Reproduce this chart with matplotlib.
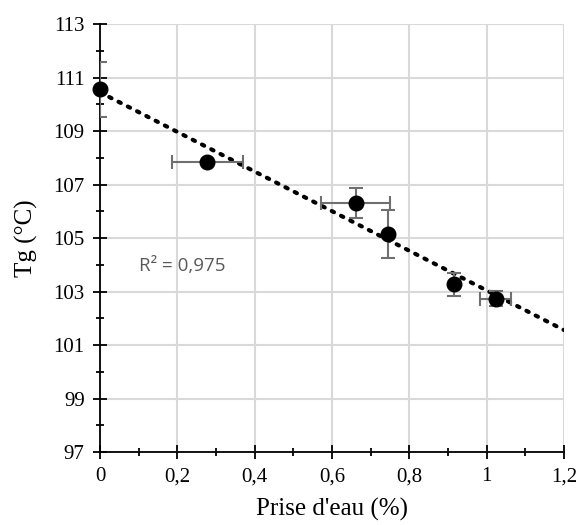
import numpy as np
import matplotlib.pyplot as plt
from matplotlib.ticker import MultipleLocator, FuncFormatter

# data
water = [0.0, 0.277, 0.661, 0.746, 0.916, 1.023]
tg = [110.57, 107.85, 106.30, 105.15, 103.27, 102.73]
water_err = [0.0, 0.092, 0.09, 0.0, 0.0, 0.04]
tg_err = [1.03, 0.0, 0.56, 0.9, 0.42, 0.28]
r2_label = "R² = 0,975"

plt.rcParams['font.family'] = ['Liberation Serif', 'DejaVu Serif']

fig = plt.figure(figsize=(5.8, 5.25), dpi=100)
ax = fig.add_axes([0.1724, 0.139, 0.80, 0.815])

ax.set_xlim(0, 1.2)
ax.set_ylim(97, 113)
ax.xaxis.set_major_locator(MultipleLocator(0.2))
ax.xaxis.set_minor_locator(MultipleLocator(0.1))
ax.yaxis.set_major_locator(MultipleLocator(2, offset=1))
ax.yaxis.set_minor_locator(MultipleLocator(1))
ax.xaxis.set_major_formatter(FuncFormatter(lambda v, p: ('%g' % round(v, 2)).replace('.', ',')))
ax.yaxis.set_major_formatter(FuncFormatter(lambda v, p: '%d' % round(v)))

ax.grid(True, which='major', color='#d9d9d9', linewidth=1.5)
ax.set_axisbelow(True)
for s in ['top', 'right']:
    ax.spines[s].set_visible(False)
for s in ['left', 'bottom']:
    ax.spines[s].set_linewidth(1.3)
    ax.spines[s].set_zorder(3)
ax.tick_params(which='major', direction='inout', length=10, width=1.3, labelsize=15, pad=6)
ax.tick_params(which='minor', direction='inout', length=6, width=1.3)

# linear trend line
coef = np.polyfit(water, tg, 1)
xs = np.array([0, 1.2])
ax.plot(xs, np.polyval(coef, xs), color='black', linestyle=(0, (0.6, 1.9)),
        linewidth=3, dash_capstyle='round', zorder=4)

ax.errorbar(water, tg, xerr=water_err, yerr=tg_err, fmt='none', ecolor='#6f6f6f',
            elinewidth=1.5, capsize=5, capthick=1.5, zorder=5)
ax.plot(water, tg, 'o', color='black', markersize=10.5, clip_on=False, zorder=6)

ax.text(0.10, 103.95, r2_label, fontsize=13.5, color='#595959', family=['Open Sans', 'DejaVu Sans'],
        va='center', ha='left')

ax.set_xlabel("Prise d'eau (%)", fontsize=18, labelpad=8)
ax.set_ylabel("Tg (°C)", fontsize=18, labelpad=11)

fig.savefig('out.png', dpi=100)
